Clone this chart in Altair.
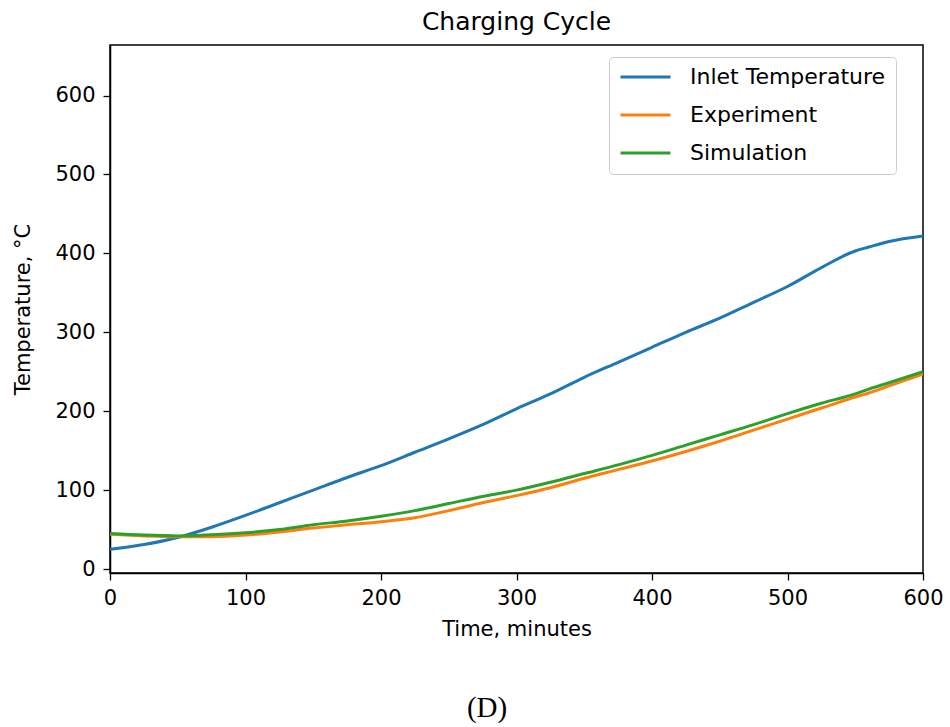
import altair as alt
import pandas as pd

# Time axis (minutes)
time_min = [0, 25, 50, 75, 100, 125, 150, 175, 200, 225, 250, 275, 300, 325,
            350, 375, 400, 425, 450, 475, 500, 525, 550, 560, 575, 600]

inlet = [25, 31, 40, 53, 68, 84, 100, 116, 131, 148, 165, 183, 203, 222,
         243, 262, 281, 300, 318, 338, 358, 382, 403, 408, 415, 422]

experiment = [44, 42, 41, 41, 43, 47, 52, 56, 60, 65, 74, 84, 93, 103,
              115, 126, 137, 149, 162, 176, 190, 204, 218, 223, 232, 247]

simulation = [45, 43, 42, 43.5, 46, 50, 56, 61, 67, 74, 83, 92, 100, 110,
              121, 132, 144, 157, 170, 183, 197, 210, 222, 228, 236, 250]

series_names = ["Inlet Temperature", "Experiment", "Simulation"]
series_colors = ["#1f77b4", "#ff7f0e", "#2ca02c"]

rows = []
for name, vals in zip(series_names, [inlet, experiment, simulation]):
    for t, v in zip(time_min, vals):
        rows.append({"Time": t, "Temperature": v, "Series": name})
df = pd.DataFrame(rows)

FONT = "DejaVu Sans"

lines = alt.Chart(df).mark_line(strokeWidth=3, clip=True, interpolate="monotone").encode(
    x=alt.X("Time:Q", title="Time, minutes",
            scale=alt.Scale(domain=[0, 600], nice=False, zero=False),
            axis=alt.Axis(values=[0, 100, 200, 300, 400, 500, 600], labelFlush=False)),
    y=alt.Y("Temperature:Q", title="Temperature, °C",
            scale=alt.Scale(domain=[-5, 664], nice=False, zero=False),
            axis=alt.Axis(values=[0, 100, 200, 300, 400, 500, 600], labelFlush=False)),
    color=alt.Color("Series:N",
                    scale=alt.Scale(domain=series_names, range=series_colors),
                    sort=series_names,
                    legend=alt.Legend(title=None, orient="none",
                                      legendX=499, legendY=12)),
    detail="Series:N",
)

caption = alt.Chart(pd.DataFrame({"label": ["(D)"]})).mark_text(
    font="Liberation Serif", fontSize=29, color="black",
    align="center", baseline="middle",
).encode(x=alt.value(377), y=alt.value(663), text="label:N")

chart = alt.layer(lines, caption).properties(
    width=813, height=528,
    title=alt.TitleParams("Charging Cycle", fontSize=25, font=FONT,
                          fontWeight="normal", color="black", offset=10),
    autosize=alt.AutoSizeParams(type="none"),
    padding={"left": 110, "top": 45, "right": 27, "bottom": 154},
).configure_view(
    stroke="black", strokeWidth=1.5
).configure_axis(
    grid=False, domainColor="black", domainWidth=1.5,
    tickColor="black", tickWidth=1.3, tickSize=7,
    labelFont=FONT, labelFontSize=21, labelColor="black",
    titleFont=FONT, titleFontSize=21, titleColor="black",
    titleFontWeight="normal",
).configure_axisX(
    labelPadding=7, titlePadding=10,
).configure_axisY(
    labelPadding=8, titlePadding=21,
).configure_legend(
    labelFont=FONT, labelFontSize=22, labelColor="black", labelLimit=0,
    symbolType="stroke", symbolStrokeWidth=3, symbolSize=2500,
    clipHeight=20, rowPadding=16,
    labelOffset=18, padding=10,
    strokeColor="#cccccc", fillColor="white", cornerRadius=4,
)

chart.save("out.html", embed_options={"renderer": "svg", "actions": False})
